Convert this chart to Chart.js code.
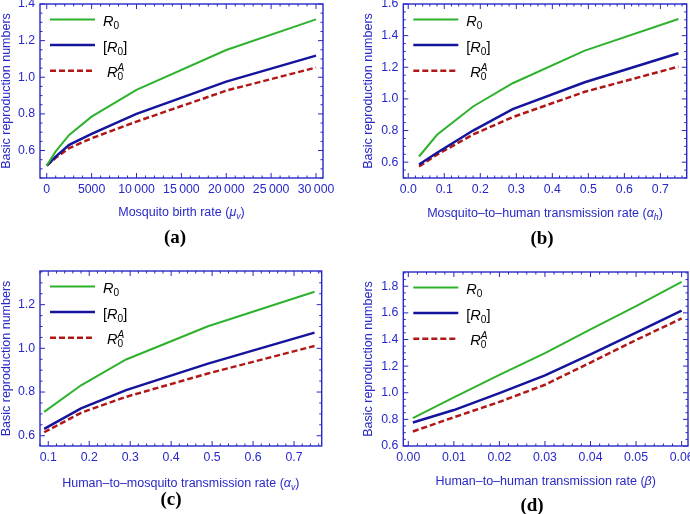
<!DOCTYPE html>
<html>
<head>
<meta charset="utf-8">
<script src="https://cdn.jsdelivr.net/npm/chart.js@4.4.1/dist/chart.umd.min.js"></script>
<style>
  body { margin: 0; background: #fff; }
  #wrap { position: relative; width: 690px; height: 514px; overflow: hidden; }
  #wrap canvas { position: absolute; }
  .tag {
    position: absolute; transform: translate(-50%, -50%);
    font: bold 19px 'Liberation Serif', 'Times New Roman', serif; color: #000;
  }
</style>
</head>
<body>
<div id="wrap">
  <canvas id="ca" width="345" height="257" style="left:0;top:0"></canvas>
  <canvas id="cb" width="345" height="257" style="left:345px;top:0"></canvas>
  <canvas id="cc" width="345" height="257" style="left:0;top:257px"></canvas>
  <canvas id="cd" width="345" height="257" style="left:345px;top:257px"></canvas>
  <div class="tag" style="left:175px;top:237px">(a)</div>
  <div class="tag" style="left:542px;top:238px">(b)</div>
  <div class="tag" style="left:171px;top:499px">(c)</div>
  <div class="tag" style="left:532px;top:505px">(d)</div>
</div>
<script>
// (a) mosquito birth rate
const birthRate = [0, 1000, 2500, 5000, 10000, 20000, 30000];
const r0Birth   = [0.518, 0.595, 0.685, 0.785, 0.931, 1.149, 1.316];
const r0BrBirth = [0.518, 0.567, 0.631, 0.691, 0.800, 0.976, 1.118];
const r0ABirth  = [0.518, 0.560, 0.613, 0.667, 0.758, 0.927, 1.053];

// (b) mosquito-to-human transmission rate
const alphaH     = [0.03, 0.08, 0.18, 0.29, 0.49, 0.75];
const r0AlphaH   = [0.636, 0.773, 0.952, 1.099, 1.305, 1.505];
const r0BrAlphaH = [0.585, 0.660, 0.800, 0.935, 1.105, 1.289];
const r0AAlphaH  = [0.573, 0.648, 0.775, 0.885, 1.045, 1.204];

// (c) human-to-mosquito transmission rate
const alphaV     = [0.09, 0.18, 0.29, 0.49, 0.75];
const r0AlphaV   = [0.709, 0.831, 0.949, 1.101, 1.259];
const r0BrAlphaV = [0.631, 0.725, 0.809, 0.930, 1.072];
const r0AAlphaV  = [0.616, 0.705, 0.778, 0.885, 1.011];

// (d) human-to-human transmission rate
const beta     = [0.001, 0.01, 0.02, 0.03, 0.04, 0.05, 0.06];
const r0Beta   = [0.809, 0.965, 1.135, 1.297, 1.476, 1.651, 1.832];
const r0BrBeta = [0.776, 0.870, 0.997, 1.130, 1.289, 1.451, 1.616];
const r0ABeta  = [0.709, 0.816, 0.931, 1.060, 1.227, 1.396, 1.558];

// tick labels
const birthTicks  = [0, 5000, 10000, 15000, 20000, 25000, 30000];
const alphaHTicks = [0, 0.1, 0.2, 0.3, 0.4, 0.5, 0.6, 0.7];
const alphaVTicks = [0.1, 0.2, 0.3, 0.4, 0.5, 0.6, 0.7];
const betaTicks   = [0, 0.01, 0.02, 0.03, 0.04, 0.05, 0.06];
const yTicksA = [0.6, 0.8, 1.0, 1.2, 1.4];
const yTicksB = [0.6, 0.8, 1.0, 1.2, 1.4, 1.6];
const yTicksC = [0.6, 0.8, 1.0, 1.2];
const yTicksD = [0.6, 0.8, 1.0, 1.2, 1.4, 1.6, 1.8];

const INK = '#2828c8';
const GREEN = '#2eb22e';
const BLUE = '#14149c';
const RED = '#b01818';
const SANS = "'Liberation Sans', Arial, sans-serif";
const TICK_SIZE = 12.3;
const TITLE_SIZE = 12.5;

Chart.defaults.font.family = SANS;

// draws a run of text pieces with italic / subscript / superscript
function drawRich(ctx, parts, x, y, size, color, align) {
    const runs = [];
    let cx = 0, lastStart = 0;
    parts.forEach(p => {
        const s = (p.sub || p.sup) ? size * 0.7 : size;
        const font = (p.i ? 'italic ' : '') + s + 'px ' + SANS;
        ctx.font = font;
        const w = ctx.measureText(p.t).width;
        const px = p.stack ? lastStart : cx;
        const dy = p.sub ? size * 0.22 : p.sup ? -size * 0.45 : 0;
        runs.push({ t: p.t, font, x: px, dy });
        if (p.stack) cx = Math.max(cx, px + w);
        else { lastStart = px; cx = px + w; }
    });
    const x0 = align === 'center' ? x - cx / 2 : x;
    ctx.save();
    ctx.fillStyle = color;
    ctx.textAlign = 'left';
    ctx.textBaseline = 'alphabetic';
    runs.forEach(r => { ctx.font = r.font; ctx.fillText(r.t, x0 + r.x, y + r.dy); });
    ctx.restore();
}

const legendItems = [
    { color: GREEN, width: 2, dash: [], dx: 63, parts: [{ t: 'R', i: true }, { t: '0', sub: true }] },
    { color: BLUE, width: 2.5, dash: [], dx: 63, parts: [{ t: '[' }, { t: 'R', i: true }, { t: '0', sub: true }, { t: ']' }] },
    { color: RED, width: 2.5, dash: [6, 3], dx: 67, parts: [{ t: 'R', i: true }, { t: '0', sub: true }, { t: 'A', i: true, sup: true, stack: true }] }
];

function decorPlugin(p) {
    return {
        id: 'decor' + p.id,
        afterDraw(chart) {
            const { ctx, chartArea: a, scales: { x, y } } = chart;
            ctx.save();
            ctx.strokeStyle = INK;
            ctx.lineWidth = 1.4;
            ctx.strokeRect(a.left, a.top, a.right - a.left, a.bottom - a.top);

            // inward ticks on all four sides
            ctx.lineWidth = 1;
            ctx.beginPath();
            const marks = (scale, step, majors, fn) => {
                const k0 = Math.ceil(scale.min / step - 1e-6);
                for (let k = k0; k * step <= scale.max + 1e-9; k++) {
                    const v = k * step;
                    const major = majors.some(m => Math.abs(m - v) < step / 10);
                    fn(scale.getPixelForValue(v), major ? 5 : 2.5);
                }
            };
            marks(x, p.xMinor, p.xTicks, (px, len) => {
                ctx.moveTo(px, a.bottom); ctx.lineTo(px, a.bottom - len);
                ctx.moveTo(px, a.top); ctx.lineTo(px, a.top + len);
            });
            marks(y, p.yMinor, p.yTicks, (py, len) => {
                ctx.moveTo(a.left, py); ctx.lineTo(a.left + len, py);
                ctx.moveTo(a.right, py); ctx.lineTo(a.right - len, py);
            });
            ctx.stroke();

            // legend
            legendItems.forEach((it, i) => {
                const ly = a.top + 15.5 + i * 25.6;
                ctx.strokeStyle = it.color;
                ctx.lineWidth = it.width;
                ctx.setLineDash(it.dash);
                ctx.beginPath();
                ctx.moveTo(a.left + 10, ly);
                ctx.lineTo(a.left + 55, ly);
                ctx.stroke();
                ctx.setLineDash([]);
                drawRich(ctx, it.parts, a.left + it.dx, ly + 6.5, 14.5, '#000', 'left');
            });
            ctx.restore();

            // x axis title
            drawRich(ctx, p.xTitle, (a.left + a.right) / 2, a.bottom + p.titleDy, TITLE_SIZE, INK, 'center');
        }
    };
}

function spaced(v) {
    return v >= 10000 ? String(v).replace(/\B(?=(\d{3})+(?!\d))/g, '\u2009') : String(v);
}

const panels = [
    { id: 'a', canvas: 'ca', x: birthRate, r0: r0Birth, r0Br: r0BrBirth, r0A: r0ABirth,
      xMin: -750, xMax: 30780, yMin: 0.45, yMax: 1.4,
      xTicks: birthTicks, yTicks: yTicksA, xMinor: 1000, yMinor: 0.05,
      fmtX: v => spaced(v), area: { l: 40, r: 323, t: 4, b: 178 }, padLeft: 0, titleDy: 38,
      xTitle: [{ t: 'Mosquito birth rate (' }, { t: 'μ', i: true }, { t: 'v', i: true, sub: true }, { t: ')' }] },
    { id: 'b', canvas: 'cb', x: alphaH, r0: r0AlphaH, r0Br: r0BrAlphaH, r0A: r0AAlphaH,
      xMin: -0.0137, xMax: 0.773, yMin: 0.5, yMax: 1.6,
      xTicks: alphaHTicks, yTicks: yTicksB, xMinor: 0.02, yMinor: 0.05,
      fmtX: v => v.toFixed(1), area: { l: 58.3, r: 341.7, t: 4, b: 178 }, padLeft: 17, titleDy: 39.3,
      xTitle: [{ t: 'Mosquito\u2013to\u2013human transmission rate (' }, { t: 'α', i: true }, { t: 'h', i: true, sub: true }, { t: ')' }] },
    { id: 'c', canvas: 'cc', x: alphaV, r0: r0AlphaV, r0Br: r0BrAlphaV, r0A: r0AAlphaV,
      xMin: 0.0798, xMax: 0.7675, yMin: 0.553, yMax: 1.354,
      xTicks: alphaVTicks, yTicks: yTicksC, xMinor: 0.02, yMinor: 0.05,
      fmtX: v => v.toFixed(1), area: { l: 40, r: 321.7, t: 14, b: 189 }, padLeft: 0, titleDy: 41,
      xTitle: [{ t: 'Human\u2013to\u2013mosquito transmission rate (' }, { t: 'α', i: true }, { t: 'v', i: true, sub: true }, { t: ')' }] },
    { id: 'd', canvas: 'cd', x: beta, r0: r0Beta, r0Br: r0BrBeta, r0A: r0ABeta,
      xMin: -0.0011, xMax: 0.0614, yMin: 0.6, yMax: 1.907,
      xTicks: betaTicks, yTicks: yTicksD, xMinor: 0.002, yMinor: 0.05,
      fmtX: v => v.toFixed(2), area: { l: 58.3, r: 343, t: 15, b: 189 }, padLeft: 17, titleDy: 39.3,
      xTitle: [{ t: 'Human\u2013to\u2013human transmission rate (' }, { t: 'β', i: true }, { t: ')' }] }
];

const zip = (xs, ys) => xs.map((x, i) => ({ x, y: ys[i] }));
const X_HEIGHT = 30;

panels.forEach(p => {
    new Chart(document.getElementById(p.canvas), {
        type: 'line',
        data: {
            datasets: [
                { label: 'R0', data: zip(p.x, p.r0), borderColor: GREEN, borderWidth: 2, pointRadius: 0 },
                { label: '[R0]', data: zip(p.x, p.r0Br), borderColor: BLUE, borderWidth: 2.5, pointRadius: 0 },
                { label: 'R0A', data: zip(p.x, p.r0A), borderColor: RED, borderWidth: 2.5, borderDash: [6, 3], pointRadius: 0 }
            ]
        },
        options: {
            responsive: false,
            animation: false,
            devicePixelRatio: 1,
            layout: {
                padding: { left: p.padLeft, right: 345 - p.area.r, top: p.area.t, bottom: 257 - p.area.b - X_HEIGHT }
            },
            plugins: { legend: { display: false }, tooltip: { enabled: false } },
            scales: {
                x: {
                    type: 'linear', min: p.xMin, max: p.xMax,
                    grid: { display: false, drawTicks: false },
                    border: { display: false },
                    afterBuildTicks: s => { s.ticks = p.xTicks.map(v => ({ value: v })); },
                    afterFit: s => { s.height = X_HEIGHT; s.paddingLeft = 0; s.paddingRight = 0; },
                    ticks: { color: INK, padding: 4.5, font: { size: TICK_SIZE }, maxRotation: 0, autoSkip: false,
                             callback: v => p.fmtX(v) }
                },
                y: {
                    type: 'linear', min: p.yMin, max: p.yMax,
                    grid: { display: false, drawTicks: false },
                    border: { display: false },
                    afterBuildTicks: s => { s.ticks = p.yTicks.map(v => ({ value: v })); },
                    afterFit: s => { s.width = p.area.l - p.padLeft; s.paddingTop = 0; s.paddingBottom = 0; },
                    ticks: { color: INK, padding: 5, font: { size: TICK_SIZE }, autoSkip: false,
                             callback: v => v.toFixed(1) },
                    title: { display: true, text: 'Basic reproduction numbers', color: INK,
                             font: { size: TITLE_SIZE, lineHeight: 1 }, padding: 0 }
                }
            }
        },
        plugins: [decorPlugin(p)]
    });
});
</script>
</body>
</html>
